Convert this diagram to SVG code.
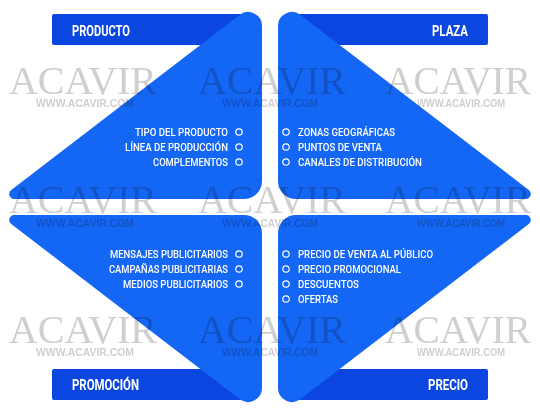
<svg xmlns="http://www.w3.org/2000/svg" xmlns:xlink="http://www.w3.org/1999/xlink" width="540" height="414" viewBox="0 0 540 414">
<style>
.shape{fill:#1466f5}
.bar{fill:#0b46e0}
.lbl{font-family:Roboto,"Liberation Sans",sans-serif;font-weight:bold;font-size:15px;fill:#fff}
.item{font-family:Roboto,"Liberation Sans",sans-serif;font-weight:500;font-size:11px;fill:#fff}
.dot{fill:none;stroke:#fff;stroke-width:1.2}
.wm{mix-blend-mode:multiply;fill:#cfcfcf}
.wmBig{font-family:"Liberation Serif",serif;font-size:41px}
.wmUrl{font-family:"Liberation Sans",sans-serif;font-weight:bold;font-size:10px}
</style>
<defs>
<path id="tri" d="M 239.5,14.9 A 14 14 0 0 1 262,26 L 262,181 A 18 18 0 0 1 244,199 L 14.3,199 A 5 5 0 0 1 11.25,190 Z"/>
</defs>
<rect width="540" height="414" fill="#fff"/>

<g id="producto">
<rect class="bar" x="52" y="14" width="200" height="31" rx="2"/>
<use xlink:href="#tri" class="shape"/>
<text class="lbl" x="72" y="36" textLength="58" lengthAdjust="spacingAndGlyphs">PRODUCTO</text>
<g text-anchor="end">
<text class="item" x="228" y="136" textLength="93" lengthAdjust="spacingAndGlyphs">TIPO DEL PRODUCTO</text>
<text class="item" x="228" y="151" textLength="103" lengthAdjust="spacingAndGlyphs">LÍNEA DE PRODUCCIÓN</text>
<text class="item" x="228" y="166" textLength="75" lengthAdjust="spacingAndGlyphs">COMPLEMENTOS</text>
</g>
<circle class="dot" cx="239" cy="132" r="3.2"/>
<circle class="dot" cx="239" cy="147" r="3.2"/>
<circle class="dot" cx="239" cy="162" r="3.2"/>
</g>

<g id="plaza">
<rect class="bar" x="288" y="14" width="200" height="31" rx="2"/>
<use xlink:href="#tri" class="shape" transform="matrix(-1 0 0 1 540 0)"/>
<text class="lbl" x="468" y="36" text-anchor="end" textLength="36" lengthAdjust="spacingAndGlyphs">PLAZA</text>
<text class="item" x="298" y="136" textLength="97" lengthAdjust="spacingAndGlyphs">ZONAS GEOGRÁFICAS</text>
<text class="item" x="298" y="151" textLength="84" lengthAdjust="spacingAndGlyphs">PUNTOS DE VENTA</text>
<text class="item" x="298" y="166" textLength="124" lengthAdjust="spacingAndGlyphs">CANALES DE DISTRIBUCIÓN</text>
<circle class="dot" cx="286" cy="132" r="3.2"/>
<circle class="dot" cx="286" cy="147" r="3.2"/>
<circle class="dot" cx="286" cy="162" r="3.2"/>
</g>

<g id="promocion">
<rect class="bar" x="52" y="369" width="200" height="31" rx="2"/>
<use xlink:href="#tri" class="shape" transform="matrix(1 0 0 -1 0 414)"/>
<text class="lbl" x="72" y="390" textLength="67" lengthAdjust="spacingAndGlyphs">PROMOCIÓN</text>
<g text-anchor="end">
<text class="item" x="228" y="258" textLength="118" lengthAdjust="spacingAndGlyphs">MENSAJES PUBLICITARIOS</text>
<text class="item" x="228" y="273" textLength="119" lengthAdjust="spacingAndGlyphs">CAMPAÑAS PUBLICITARIAS</text>
<text class="item" x="228" y="288" textLength="105" lengthAdjust="spacingAndGlyphs">MEDIOS PUBLICITARIOS</text>
</g>
<circle class="dot" cx="239" cy="254" r="3.2"/>
<circle class="dot" cx="239" cy="269" r="3.2"/>
<circle class="dot" cx="239" cy="284" r="3.2"/>
</g>

<g id="precio">
<rect class="bar" x="288" y="369" width="200" height="31" rx="2"/>
<use xlink:href="#tri" class="shape" transform="matrix(-1 0 0 -1 540 414)"/>
<text class="lbl" x="468" y="390" text-anchor="end" textLength="40" lengthAdjust="spacingAndGlyphs">PRECIO</text>
<text class="item" x="298" y="258" textLength="135" lengthAdjust="spacingAndGlyphs">PRECIO DE VENTA AL PÚBLICO</text>
<text class="item" x="298" y="273" textLength="103" lengthAdjust="spacingAndGlyphs">PRECIO PROMOCIONAL</text>
<text class="item" x="298" y="288" textLength="61" lengthAdjust="spacingAndGlyphs">DESCUENTOS</text>
<text class="item" x="298" y="303" textLength="40" lengthAdjust="spacingAndGlyphs">OFERTAS</text>
<circle class="dot" cx="286" cy="254" r="3.2"/>
<circle class="dot" cx="286" cy="269" r="3.2"/>
<circle class="dot" cx="286" cy="284" r="3.2"/>
<circle class="dot" cx="286" cy="299" r="3.2"/>
</g>

<g id="watermark" class="wm" text-anchor="middle">
<text class="wmBig" x="83" y="94" textLength="148" lengthAdjust="spacingAndGlyphs">ACAVIR</text>
<text class="wmBig" x="272" y="94" textLength="148" lengthAdjust="spacingAndGlyphs">ACAVIR</text>
<text class="wmBig" x="458" y="94" textLength="146" lengthAdjust="spacingAndGlyphs">ACAVIR</text>
<text class="wmUrl" x="85" y="107" textLength="98" lengthAdjust="spacingAndGlyphs">WWW.ACAVIR.COM</text>
<text class="wmUrl" x="270" y="107" textLength="96" lengthAdjust="spacingAndGlyphs">WWW.ACAVIR.COM</text>
<text class="wmUrl" x="461" y="107" textLength="88" lengthAdjust="spacingAndGlyphs">WWW.ACAVIR.COM</text>
<text class="wmBig" x="83" y="213" textLength="148" lengthAdjust="spacingAndGlyphs">ACAVIR</text>
<text class="wmBig" x="272" y="213" textLength="148" lengthAdjust="spacingAndGlyphs">ACAVIR</text>
<text class="wmBig" x="458" y="213" textLength="146" lengthAdjust="spacingAndGlyphs">ACAVIR</text>
<text class="wmUrl" x="85" y="227" textLength="98" lengthAdjust="spacingAndGlyphs">WWW.ACAVIR.COM</text>
<text class="wmUrl" x="270" y="227" textLength="96" lengthAdjust="spacingAndGlyphs">WWW.ACAVIR.COM</text>
<text class="wmUrl" x="461" y="227" textLength="88" lengthAdjust="spacingAndGlyphs">WWW.ACAVIR.COM</text>
<text class="wmBig" x="83" y="343" textLength="148" lengthAdjust="spacingAndGlyphs">ACAVIR</text>
<text class="wmBig" x="272" y="343" textLength="148" lengthAdjust="spacingAndGlyphs">ACAVIR</text>
<text class="wmBig" x="458" y="343" textLength="146" lengthAdjust="spacingAndGlyphs">ACAVIR</text>
<text class="wmUrl" x="85" y="356" textLength="98" lengthAdjust="spacingAndGlyphs">WWW.ACAVIR.COM</text>
<text class="wmUrl" x="270" y="356" textLength="96" lengthAdjust="spacingAndGlyphs">WWW.ACAVIR.COM</text>
<text class="wmUrl" x="461" y="356" textLength="88" lengthAdjust="spacingAndGlyphs">WWW.ACAVIR.COM</text>
</g>
</svg>
